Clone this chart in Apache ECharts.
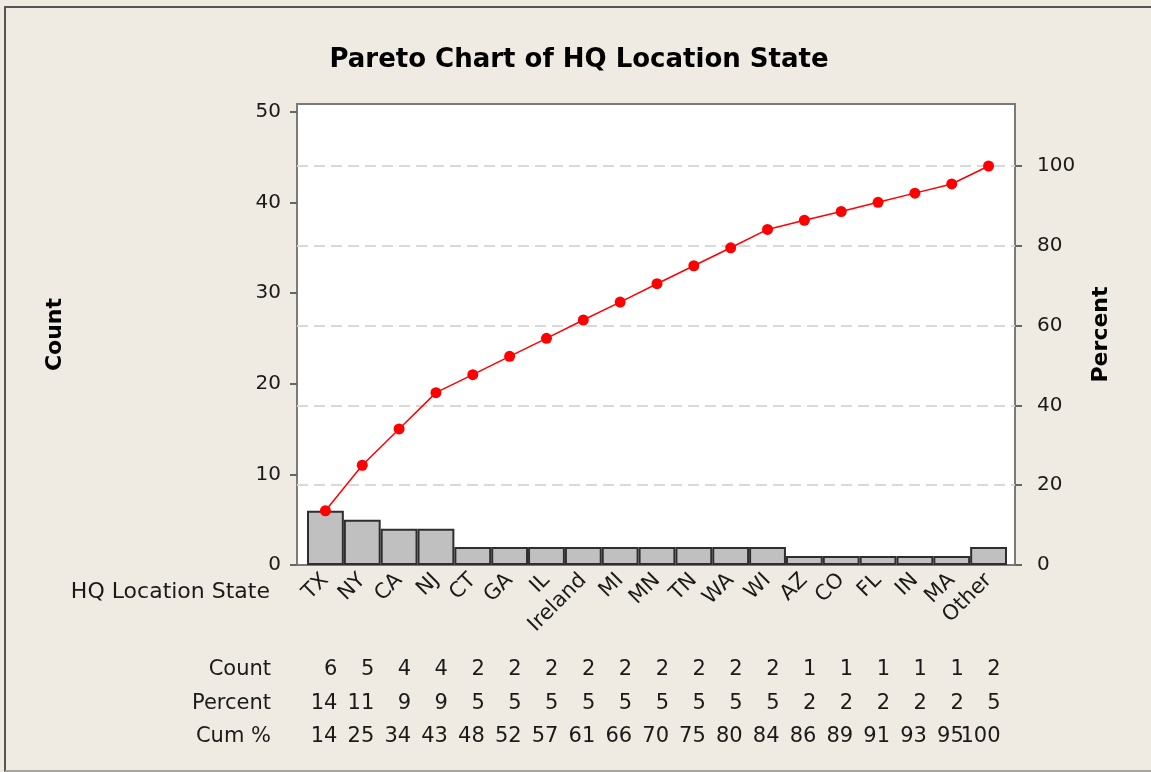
<!DOCTYPE html>
<html>
<head>
<meta charset="utf-8">
<script src="https://cdn.jsdelivr.net/npm/echarts@6/dist/echarts.min.js"></script>
<style>
  html, body { margin: 0; padding: 0; background: #efebe2; }
  #chart { width: 1151px; height: 772px; }
  .edge {
    position: absolute; left: 4px; top: 6px; width: 1149px; height: 762px;
    border-left: 2px solid #555; border-top: 2px solid #555; border-bottom: 2px solid #a8a6a0;
    pointer-events: none;
  }
</style>
</head>
<body>
<div id="chart"></div>
<div class="edge"></div>
<script>
// categories sorted by count
const states = ["TX", "NY", "CA", "NJ", "CT", "GA", "IL", "Ireland", "MI", "MN", "TN", "WA", "WI", "AZ", "CO", "FL", "IN", "MA", "Other"];
const counts = [6, 5, 4, 4, 2, 2, 2, 2, 2, 2, 2, 2, 2, 1, 1, 1, 1, 1, 2];
// rounded values printed in the table
const percentRow = [14, 11, 9, 9, 5, 5, 5, 5, 5, 5, 5, 5, 5, 2, 2, 2, 2, 2, 5];
const cumRow = [14, 25, 34, 43, 48, 52, 57, 61, 66, 70, 75, 80, 84, 86, 89, 91, 93, 95, 100];
// cumulative percent points of the red line
const cumLine = [13.6, 25.0, 34.1, 43.2, 47.7, 52.3, 56.8, 61.4, 65.9, 70.5, 75.0, 79.5, 84.1, 86.4, 88.6, 90.9, 93.2, 95.5, 100];
const countTicks = [0, 50, 10];
const percentTicks = [0, 100, 20];

const FONT = '"DejaVu Sans", Verdana, sans-serif';
const txt = '#1a1a1a';
const tickStyle = { color: '#666', width: 2 };

const chart = echarts.init(document.getElementById('chart'));

function tableAxis(name, values, offset) {
  return {
    type: 'category', gridIndex: 4, position: 'bottom', offset: offset,
    data: states,
    axisLine: { show: false, onZero: false }, axisTick: { show: false },
    axisLabel: {
      interval: 0, margin: 0, align: 'right', verticalAlign: 'middle',
      fontSize: 21, fontFamily: FONT, color: txt,
      formatter: (v, i) => String(values[i])
    },
    name: name, nameLocation: 'start', nameGap: 48,
    nameTextStyle: { fontSize: 21, fontFamily: FONT, color: txt, align: 'right', verticalAlign: 'middle' }
  };
}

const option = {
  backgroundColor: '#efebe2',
  animation: false,
  title: {
    text: 'Pareto Chart of HQ Location State',
    left: 579, top: 47, padding: 0, textAlign: 'center',
    textStyle: { fontSize: 26, fontWeight: 'bold', fontFamily: FONT, color: '#000' }
  },
  grid: [
    // plot frame
    { left: 297, top: 104, width: 718, height: 461, show: true, backgroundColor: '#fff',
      borderColor: '#7a7a7a', borderWidth: 2, outerBoundsMode: 'none' },
    // bars
    { left: 307, top: 112, width: 700, height: 453, outerBoundsMode: 'none' },
    // cumulative line
    { left: 307, top: 166, width: 700, height: 399, outerBoundsMode: 'none' },
    // percent axis + gridlines
    { left: 297, top: 166, width: 718, height: 399, outerBoundsMode: 'none' },
    // table under the chart
    { left: 319, top: 112, width: 700, height: 453, outerBoundsMode: 'none' }
  ],
  xAxis: [
    { type: 'category', gridIndex: 0, show: false, data: states },
    {
      type: 'category', gridIndex: 1, data: states,
      axisLine: { show: false },
      axisTick: { alignWithLabel: true, length: 7, lineStyle: tickStyle },
      axisLabel: { interval: 0, rotate: 45, margin: 12, fontSize: 21, fontFamily: FONT, color: txt }
    },
    { type: 'category', gridIndex: 2, show: false, data: states },
    { type: 'category', gridIndex: 3, show: false, data: states },
    tableAxis('Count', counts, 105),
    tableAxis('Percent', percentRow, 139),
    tableAxis('Cum %', cumRow, 172)
  ],
  yAxis: [
    { type: 'value', gridIndex: 0, position: 'left', min: 0, max: 1,
      axisLine: { show: false }, axisTick: { show: false }, axisLabel: { show: false }, splitLine: { show: false },
      name: 'Count', nameLocation: 'middle', nameRotate: 90, nameGap: 231,
      nameTextStyle: { fontSize: 22, fontWeight: 'bold', fontFamily: FONT, color: '#000' } },
    { type: 'value', gridIndex: 0, position: 'right', min: 0, max: 1,
      axisLine: { show: false }, axisTick: { show: false }, axisLabel: { show: false }, splitLine: { show: false },
      name: 'Percent', nameLocation: 'middle', nameRotate: 90, nameGap: 75,
      nameTextStyle: { fontSize: 22, fontWeight: 'bold', fontFamily: FONT, color: '#000' } },
    { type: 'value', gridIndex: 1, position: 'left', offset: 10,
      min: countTicks[0], max: countTicks[1], interval: countTicks[2],
      axisLine: { show: false },
      axisTick: { show: true, length: 7, lineStyle: tickStyle },
      axisLabel: { margin: 16, fontSize: 20, fontFamily: FONT, color: txt },
      splitLine: { show: false } },
    { type: 'value', gridIndex: 2, show: false, min: percentTicks[0], max: percentTicks[1], interval: percentTicks[2] },
    { type: 'value', gridIndex: 3, position: 'right',
      min: percentTicks[0], max: percentTicks[1], interval: percentTicks[2],
      axisLine: { show: false },
      axisTick: { show: true, length: 7, lineStyle: tickStyle },
      axisLabel: { margin: 22, fontSize: 20, fontFamily: FONT, color: txt },
      splitLine: { show: true, showMinLine: false, lineStyle: { color: '#d9d9d9', width: 2, type: [11, 6] } } },
    { type: 'value', gridIndex: 4, show: false, min: 0, max: 1 }
  ],
  graphic: [
    { type: 'text', x: 270, y: 592,
      style: { text: 'HQ Location State', align: 'right', verticalAlign: 'middle',
               font: '22px ' + FONT, fill: txt } }
  ],
  series: [
    {
      type: 'bar', xAxisIndex: 1, yAxisIndex: 2, data: counts,
      barCategoryGap: '0%',
      itemStyle: { color: '#c0c0c0', borderColor: '#2e2e2e', borderWidth: 2 }
    },
    {
      type: 'line', xAxisIndex: 2, yAxisIndex: 3, data: cumLine,
      symbol: 'circle', symbolSize: 11,
      lineStyle: { color: '#ff0000', width: 1.5 },
      itemStyle: { color: '#ff0000' }
    }
  ]
};

chart.setOption(option);
</script>
</body>
</html>
